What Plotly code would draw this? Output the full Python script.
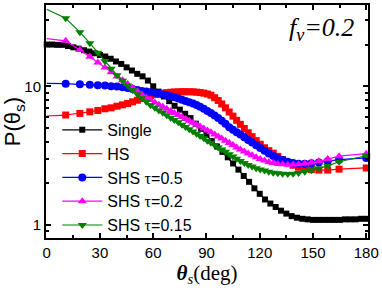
import plotly.graph_objects as go

# ---------------- data ----------------
theta_single = list(range(0, 181, 3))
p_single = [20.0, 20.0, 19.9, 19.9, 19.5, 19.1, 18.7, 18.2, 17.8, 17.3, 16.8, 16.4, 15.8, 15.1,
            14.5, 13.7, 13.0, 12.3, 11.8, 11.0, 10.0, 9.16, 8.45, 7.82, 7.24, 6.79, 6.34, 5.90,
            5.38, 4.94, 4.48, 4.03, 3.68, 3.37, 3.08, 2.78, 2.51, 2.26, 2.05, 1.84, 1.68, 1.53,
            1.43, 1.35, 1.27, 1.21, 1.16, 1.13, 1.11, 1.10, 1.09, 1.09, 1.09, 1.09, 1.09, 1.09,
            1.10, 1.10, 1.10, 1.11, 1.11]

theta_grid = [10.7, 18.7, 24.3, 28.8, 32.8, 36.3, 39.6, 42.7, 45.6, 48.4, 51.1, 53.6, 56.1, 58.5,
              60.9, 63.2, 65.4, 67.6, 69.8, 71.9, 74.1, 76.2, 78.2, 80.3, 82.4, 84.4, 86.4, 88.5,
              90.5, 92.5, 94.6, 96.6, 98.6, 100.7, 102.8, 104.9, 107.0, 109.1, 111.3, 113.5,
              115.7, 118.0, 120.3, 122.7, 125.1, 127.6, 130.2, 132.9, 135.8, 138.8, 141.9,
              145.4, 149.1, 153.3, 158.3, 164.7, 180.0]

p_hs_start = 6.11
p_hs = [6.21, 6.38, 6.55, 6.70, 6.89, 7.00, 7.19, 7.35, 7.52, 7.73, 7.94, 8.17, 8.41, 8.57, 8.71,
        8.83, 8.93, 8.99, 9.06, 9.10, 9.12, 9.14, 9.14, 9.14, 9.12, 9.08, 9.02, 8.93, 8.81, 8.63,
        8.28, 7.91, 7.46, 7.00, 6.53, 6.10, 5.69, 5.32, 4.97, 4.63, 4.34, 4.06, 3.82, 3.61, 3.44,
        3.30, 3.13, 2.97, 2.82, 2.70, 2.61, 2.55, 2.51, 2.49, 2.49, 2.53, 2.58]

p_shs05_start = 10.5
p_shs05 = [10.45, 10.33, 10.28, 10.16, 10.12, 10.0, 9.95, 9.84, 9.73, 9.57, 9.42, 9.25, 9.16,
           9.08, 8.97, 8.85, 8.73, 8.61, 8.47, 8.34, 8.17, 8.00, 7.83, 7.67, 7.52, 7.35, 7.13,
           6.89, 6.65, 6.43, 6.17, 5.90, 5.65, 5.37, 5.08, 4.86, 4.67, 4.49, 4.30, 4.11, 3.94,
           3.76, 3.60, 3.44, 3.28, 3.15, 3.03, 2.94, 2.86, 2.80, 2.77, 2.77, 2.79, 2.83, 2.88,
           2.96, 3.05]

p_shs02_start = 22.1
p_shs02 = [21.28, 18.32, 16.33, 14.86, 13.65, 12.65, 11.78, 11.04, 10.38, 9.77, 9.23, 8.73, 8.28,
           7.96, 7.66, 7.38, 7.13, 6.89, 6.65, 6.43, 6.21, 6.01, 5.82, 5.64, 5.46, 5.30, 5.13,
           4.97, 4.81, 4.66, 4.50, 4.35, 4.20, 4.05, 3.90, 3.77, 3.63, 3.51, 3.39, 3.28, 3.18,
           3.08, 2.99, 2.92, 2.85, 2.80, 2.76, 2.74, 2.72, 2.73, 2.75, 2.78, 2.82, 2.88, 2.99,
           3.14, 3.27]

p_shs015_start = 35.9
p_shs015 = [30.9, 24.55, 20.46, 17.46, 15.14, 13.40, 12.02, 10.96, 10.12, 9.40, 8.77, 8.22, 7.73,
            7.31, 7.00, 6.70, 6.44, 6.18, 5.94, 5.71, 5.50, 5.28, 5.09, 4.90, 4.72, 4.55, 4.39,
            4.22, 4.06, 3.92, 3.77, 3.63, 3.50, 3.37, 3.24, 3.12, 3.01, 2.90, 2.80, 2.71, 2.64,
            2.57, 2.52, 2.47, 2.42, 2.38, 2.36, 2.34, 2.33, 2.34, 2.37, 2.42, 2.48, 2.56, 2.67,
            2.86, 3.16]

x_ticks = [0, 30, 60, 90, 120, 150, 180]
x_minor = [15, 45, 75, 105, 135, 165]
y_ticks = [1, 10]
y_minor = [0.9, 2, 3, 4, 5, 6, 7, 8, 9, 20, 30]

SANS = "Liberation Sans, Arial, sans-serif"
SERIF = "Liberation Serif, Times New Roman, serif"
TAU = '<span style="font-family:Liberation Serif">τ</span>'

fig = go.Figure()

fig.add_trace(go.Scatter(
    x=theta_single, y=p_single, mode="lines+markers", name="Single",
    line=dict(color="black", width=1.2), marker=dict(symbol="square", size=6, color="black"),
    cliponaxis=False))

others = [
    ("HS", p_hs_start, p_hs, "#ff0000", "square", 7),
    ("SHS " + TAU + "=0.5", p_shs05_start, p_shs05, "#0000ff", "circle", 8),
    ("SHS " + TAU + "=0.2", p_shs02_start, p_shs02, "#ff00ff", "triangle-up", 8),
    ("SHS " + TAU + "=0.15", p_shs015_start, p_shs015, "#008000", "triangle-down", 8),
]
for name, p0, vals, col, sym, sz in others:
    fig.add_trace(go.Scatter(
        x=[0, theta_grid[0]], y=[p0, vals[0]], mode="lines", showlegend=False,
        line=dict(color=col, width=1.2), hoverinfo="skip"))
    fig.add_trace(go.Scatter(
        x=theta_grid, y=vals, mode="lines+markers", name=name,
        line=dict(color=col, width=1.2), marker=dict(symbol=sym, size=sz, color=col),
        cliponaxis=False))

fig.update_layout(
    width=382, height=293,
    margin=dict(l=46, r=14, t=3, b=55),
    paper_bgcolor="white", plot_bgcolor="white",
    font=dict(family=SANS, color="black"),
    showlegend=True,
    legend=dict(x=0.035, y=0.537, xanchor="left", yanchor="top",
                bgcolor="rgba(0,0,0,0)", font=dict(size=16, family=SANS),
                tracegroupgap=0, itemwidth=40),
    xaxis=dict(
        range=[-0.4, 181], tickmode="array", tickvals=x_ticks,
        ticks="inside", ticklen=5, tickwidth=1.5, tickcolor="black",
        showline=True, linewidth=2, linecolor="black", mirror="allticks",
        showgrid=False, zeroline=False,
        tickfont=dict(size=15, family=SANS),
        minor=dict(tickmode="array", tickvals=x_minor, ticks="inside", ticklen=3,
                   tickwidth=1.5, tickcolor="black", showgrid=False),
        title=dict(text="<b><i>θ</i></b><sub><i>s</i></sub>(deg)",
                   font=dict(family=SERIF, size=21), standoff=4),
    ),
    yaxis=dict(
        type="log", range=[-0.093, 1.586], tickmode="array", tickvals=y_ticks,
        ticktext=["1", "10"],
        ticks="inside", ticklen=5, tickwidth=1.5, tickcolor="black",
        showline=True, linewidth=2, linecolor="black", mirror="allticks",
        showgrid=False, zeroline=False,
        tickfont=dict(size=15, family=SANS),
        minor=dict(tickmode="array", tickvals=y_minor, ticks="inside", ticklen=3,
                   tickwidth=1.5, tickcolor="black", showgrid=False),
        title=dict(text="P(θ<sub>s</sub>)", font=dict(family=SANS, size=22), standoff=2),
    ),
    annotations=[dict(
        x=0.857, y=0.895, xref="paper", yref="paper", xanchor="center", yanchor="middle",
        showarrow=False,
        text="<i>f</i><sub><i>v</i></sub><i>=0.2</i>",
        font=dict(family=SERIF, size=26, color="black"))],
)

fig.write_html("out.html", config={"displayModeBar": False},
               post_script="document.body.style.margin='0';document.body.style.overflow='hidden';")
